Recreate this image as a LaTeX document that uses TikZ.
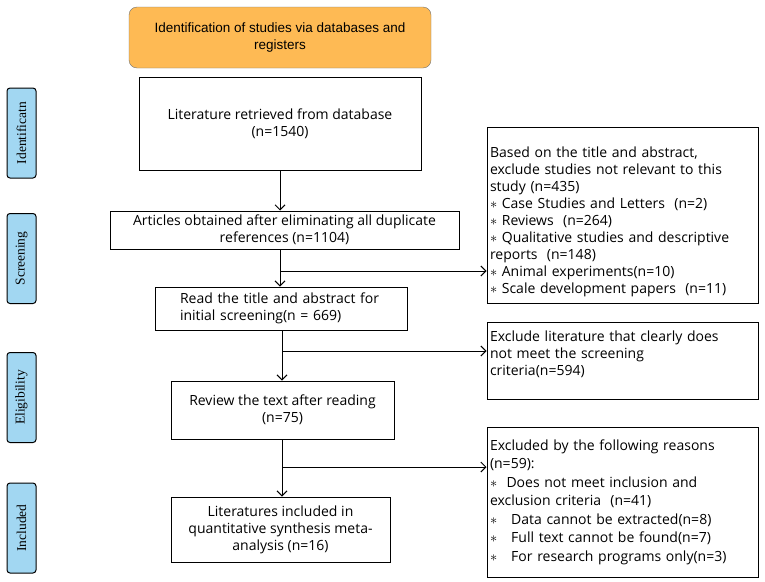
\documentclass[tikz,border=0pt]{standalone}
\usepackage{fontspec}
\setmainfont{Open Sans}
\newfontfamily\labelfont{Liberation Serif}
\newfontfamily\titlefont{Liberation Sans}
\usepackage{tikz}
\usetikzlibrary{positioning}
\usetikzlibrary{arrows.meta,calc}
\definecolor[named]{headorange}{RGB}{254,186,84}
\definecolor[named]{phaseblue}{RGB}{162,215,242}

\begin{document}
\begin{tikzpicture}
    [x=1pt,y=-1pt,
    mainbox/.style={rectangle,draw,line width=1pt,inner sep=3pt,font=\fontsize{14}{17}\selectfont,align=center},
    exclbox/.style={mainbox,minimum width=271pt,text width=265pt,align=left},
    sidelabel/.style={rectangle,rounded corners=3pt,draw,line width=1pt,fill=phaseblue,rotate=90,minimum height=29pt,minimum width=90pt,inner sep=0pt,font=\labelfont\fontsize{13.5}{15}\selectfont},
    flowarrow/.style={line width=1pt,-{Straight Barb[length=5pt,width=10pt,line width=1pt]}}]
    \useasboundingbox (0,0) rectangle (765,581);
    % phase labels on the left
    \node [sidelabel] (Ident) at (21.5,133) {Identificatn};
    \node [sidelabel] (Screen) at (21.5,258.5) {Screening};
    \node [sidelabel] (Elig) at (21.5,397.5) {Eligibility};
    \node [sidelabel] (Incl) at (21.5,528) {Included};
    % main column
    \node [rectangle,rounded corners=8pt,draw=black!55,fill=headorange,minimum width=302pt,minimum height=61pt,align=center,font=\titlefont\fontsize{13.5}{17}\selectfont] (Head) at (280,37.5) {Identification of studies via databases and\\registers};
    \node [mainbox,minimum width=282pt,minimum height=93pt] (Retrieved) at (280,123.5) {Literature retrieved from database\\(n=1540)};
    \node [mainbox,minimum width=349pt,minimum height=38pt] (Dedup) at (284.5,230) {Articles obtained after eliminating all duplicate\\references (n=1104)};
    \node [mainbox,minimum width=252pt,minimum height=43pt,text width=202pt,align=left] (TitleAbs) at (281,308.5) {Read the title and abstract for\\initial screening(n = 669)};
    \node [mainbox,minimum width=223pt,minimum height=58pt] (FullText) at (282.5,410) {Review the text after reading\\(n=75)};
    \node [mainbox,minimum width=219pt,minimum height=65pt] (Synth) at (280.5,529.5) {Literatures included in\\quantitative synthesis meta-\\analysis (n=16)};
    % exclusion boxes on the right
    \node [exclbox,minimum height=176pt] (ExclA) at (622.5,215) {~\\[8pt]Based on the title and abstract,\\exclude studies not relevant to this\\study (n=435)\\$\ast$ Case Studies and Letters~~(n=2)\\$\ast$ Reviews~~(n=264)\\$\ast$ Qualitative studies and descriptive\\reports~~(n=148)\\$\ast$ Animal experiments(n=10)\\$\ast$ Scale development papers~~(n=11)};
    \node [exclbox,minimum height=77pt] (ExclB) at (622.5,360.5) {Exclude literature that clearly does\\not meet the screening\\criteria(n=594)\\[-2pt]~};
    \node [exclbox,minimum height=150pt,font=\fontsize{14}{18.5}\selectfont] (ExclC) at (622.5,502) {Excluded by the following reasons\\(n=59):\\$\ast$~~Does not meet inclusion and\\exclusion criteria~~(n=41)\\$\ast$~~~Data cannot be extracted(n=8)\\$\ast$~~~Full text cannot be found(n=7)\\$\ast$~~~For research programs only(n=3)};
    % branch points
    \coordinate (SplitA) at (280,271);
    \coordinate (SplitB) at (282,351);
    \coordinate (SplitC) at (282,467);
    \draw[flowarrow] (Retrieved.south) -- (Retrieved.south |- Dedup.north);
    \draw[flowarrow] (Dedup.south -| SplitA) -- (SplitA |- TitleAbs.north);
    \draw[flowarrow] (SplitA) -- (SplitA -| ExclA.west);
    \draw[flowarrow] (TitleAbs.south -| SplitB) -- (SplitB |- FullText.north);
    \draw[flowarrow] (SplitB) -- (SplitB -| ExclB.west);
    \draw[flowarrow] (FullText.south -| SplitC) -- (SplitC |- Synth.north);
    \draw[flowarrow] (SplitC) -- (SplitC -| ExclC.west);
\end{tikzpicture}
\end{document}
